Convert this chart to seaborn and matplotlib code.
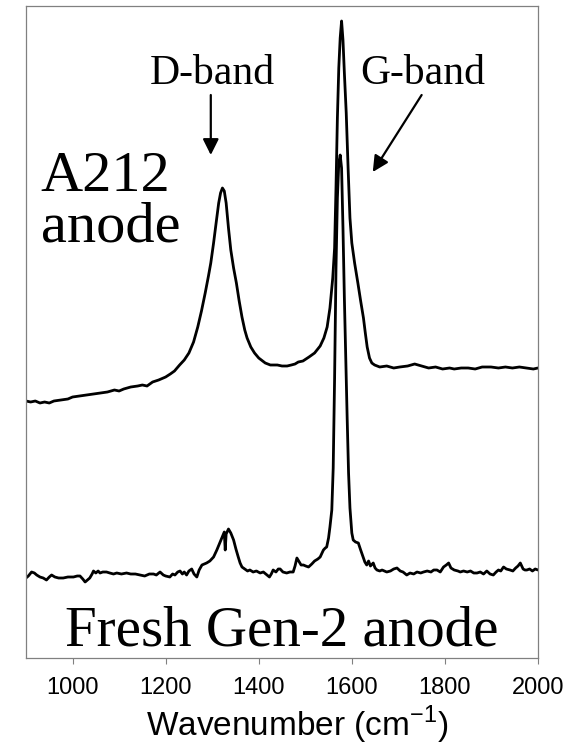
import matplotlib
matplotlib.use("Agg")
import matplotlib.pyplot as plt
import seaborn as sns
import pandas as pd

# === DATA (intensity in arbitrary units) ===
a212_wn = [900, 910, 920, 930, 940, 950, 960, 975, 990, 1000, 1015, 1030, 1045, 1060, 1075,
           1090, 1100, 1110, 1125, 1140, 1150, 1160, 1172, 1185, 1200, 1210, 1219, 1230, 1240,
           1250, 1260, 1269, 1277, 1285, 1292, 1297, 1303, 1309, 1314, 1318, 1322, 1326, 1330,
           1335, 1340, 1346, 1352, 1358, 1364, 1370, 1375, 1383, 1391, 1400, 1414, 1425, 1440,
           1450, 1461, 1470, 1478, 1485, 1495, 1508, 1520, 1532, 1540, 1547, 1553, 1559, 1563,
           1566, 1569, 1572, 1575, 1578, 1581, 1584, 1588, 1592, 1596, 1600, 1606, 1613, 1619,
           1625, 1629, 1633, 1638, 1643, 1649, 1660, 1675, 1690, 1703, 1720, 1735, 1750, 1765,
           1780, 1795, 1810, 1820, 1835, 1850, 1865, 1880, 1899, 1915, 1930, 1945, 1960, 1975,
           1990, 2000]
a212_int = [257, 256, 257, 255, 256, 255, 257, 258, 259, 261, 262, 263, 264, 265, 266,
            268, 267, 269, 271, 272, 273, 272, 276, 278, 281, 284, 287, 293, 298,
            305, 316, 331, 347, 365, 382, 395, 415, 437, 455, 465, 470, 467, 455,
            430, 408, 390, 375, 357, 341, 328, 320, 311, 305, 300, 295, 293, 293,
            292, 292, 293, 294, 296, 297, 301, 305, 312, 320, 331, 350, 380, 410,
            470, 540, 590, 620, 637, 618, 585, 545, 490, 440, 415, 395, 375, 357,
            340, 325, 311, 300, 295, 293, 291, 292, 290, 291, 292, 294, 292, 290,
            291, 289, 290, 289, 290, 290, 289, 291, 291, 290, 291, 290, 291, 290,
            289, 290]

fresh_wn = [900, 905, 912, 918, 923, 930, 937, 944, 950, 955, 962, 970, 980, 990, 1002,
            1010, 1016, 1022, 1027, 1032, 1037, 1042, 1045, 1050, 1055, 1059, 1065, 1073, 1080,
            1088, 1095, 1105, 1116, 1125, 1135, 1145, 1155, 1165, 1174, 1180, 1188, 1195, 1200,
            1209, 1215, 1220, 1226, 1231, 1236, 1240, 1245, 1250, 1256, 1261, 1267, 1272, 1278,
            1283, 1288, 1295, 1303, 1310, 1317, 1322, 1326, 1328, 1330, 1335, 1340, 1346, 1351,
            1356, 1360, 1364, 1370, 1376, 1381, 1388, 1395, 1403, 1410, 1418, 1423, 1427, 1431,
            1437, 1442, 1446, 1452, 1460, 1467, 1474, 1478, 1482, 1487, 1491, 1496, 1501, 1507,
            1514, 1520, 1527, 1532, 1539, 1543, 1546, 1550, 1553, 1557, 1560, 1563, 1566, 1569,
            1572, 1575, 1578, 1581, 1584, 1587, 1590, 1593, 1596, 1600, 1603, 1608, 1614, 1619,
            1625, 1628, 1632, 1636, 1640, 1646, 1650, 1654, 1660, 1665, 1675, 1683, 1690, 1697,
            1704, 1710, 1718, 1725, 1733, 1740, 1748, 1754, 1762, 1770, 1776, 1783, 1790, 1797,
            1803, 1808, 1813, 1820, 1828, 1833, 1840, 1848, 1855, 1862, 1869, 1876, 1883, 1890,
            1897, 1904, 1910, 1915, 1920, 1926, 1932, 1940, 1946, 1952, 1957, 1962, 1968, 1972,
            1976, 1982, 1988, 1994, 2000]
fresh_int = [80, 82, 86, 85, 83, 81, 80, 78, 81, 83, 81, 80, 80, 81, 81,
             82, 82, 79, 76, 78, 80, 84, 87, 85, 87, 85, 86, 86, 85,
             84, 85, 84, 85, 84, 84, 83, 82, 84, 84, 83, 86, 83, 82,
             81, 84, 83, 86, 87, 84, 86, 83, 87, 89, 84, 81, 88, 93,
             94, 95, 97, 101, 108, 116, 122, 126, 108, 124, 129, 125, 118, 109,
             101, 95, 91, 89, 87, 88, 86, 87, 85, 86, 83, 81, 84, 88,
             86, 89, 89, 86, 85, 86, 86, 92, 100, 96, 93, 93, 92, 91,
             94, 97, 99, 101, 108, 110, 111, 120, 131, 148, 190, 280, 390, 460,
             495, 503, 490, 430, 360, 300, 240, 185, 150, 125, 118, 116, 115, 108,
             100, 96, 93, 97, 92, 95, 90, 88, 87, 88, 86, 87, 89, 90,
             87, 86, 83, 85, 84, 86, 85, 86, 87, 86, 88, 88, 86, 91,
             93, 95, 90, 88, 87, 86, 87, 86, 87, 85, 85, 86, 84, 87,
             84, 83, 86, 88, 87, 91, 89, 88, 87, 90, 92, 95, 89, 88,
             88, 89, 87, 89, 88]

x_ticks = [1000, 1200, 1400, 1600, 1800, 2000]

sns.set_style("white")
plt.rcParams["font.family"] = ["Liberation Sans", "DejaVu Sans"]
plt.rcParams["text.color"] = "black"
plt.rcParams["xtick.labelcolor"] = "black"
plt.rcParams["axes.labelcolor"] = "black"
plt.rcParams["mathtext.fontset"] = "custom"
plt.rcParams["mathtext.rm"] = "Liberation Sans"
SERIF = ["Liberation Serif", "DejaVu Serif"]

fig = plt.figure(figsize=(5.7, 7.45), dpi=100)
ax = fig.add_axes([26 / 570, 1 - 658 / 745, 512 / 570, 652 / 745])

df_a = pd.DataFrame({"wn": a212_wn, "intensity": a212_int})
df_f = pd.DataFrame({"wn": fresh_wn, "intensity": fresh_int})
sns.lineplot(data=df_a, x="wn", y="intensity", color="black", lw=2.0, ax=ax)
sns.lineplot(data=df_f, x="wn", y="intensity", color="black", lw=2.0, ax=ax)

ax.set_xlim(900, 2000)
ax.set_ylim(0, 652)
ax.set_xticks(x_ticks)
ax.set_yticks([])
ax.tick_params(axis="x", direction="out", length=4, width=0.8, color="#808080",
               labelsize=17, labelcolor="black", pad=10, bottom=True)
for s in ax.spines.values():
    s.set_visible(True)
    s.set_color("#808080")
    s.set_linewidth(0.9)

ax.set_xlabel("Wavenumber (cm$^{\\mathregular{-1}}$)", fontsize=24, color="black")
ax.xaxis.set_label_coords(0.53, -0.071)
ax.set_ylabel("")

# annotations
ax.text(1301, 574, "D-band", family=SERIF, fontsize=30, ha="center", va="baseline", color="black")
ax.text(1752, 574, "G-band", family=SERIF, fontsize=30, ha="center", va="baseline", color="black")
ax.text(930, 467, "A212", family=SERIF, fontsize=42, ha="left", va="baseline", color="black")
ax.text(932, 417, "anode", family=SERIF, fontsize=42, ha="left", va="baseline", color="black")
ax.text(1449, 13, "Fresh Gen-2 anode", family=SERIF, fontsize=41, ha="center", va="baseline",
        color="black")

arrow = dict(arrowstyle="-|>", color="black", lw=1.6, mutation_scale=24, shrinkA=0, shrinkB=0)
ax.annotate("", xy=(1297, 503), xytext=(1297, 563), arrowprops=arrow)
ax.annotate("", xy=(1645, 486), xytext=(1750, 563), arrowprops=arrow)

fig.savefig("out.png", dpi=100)
